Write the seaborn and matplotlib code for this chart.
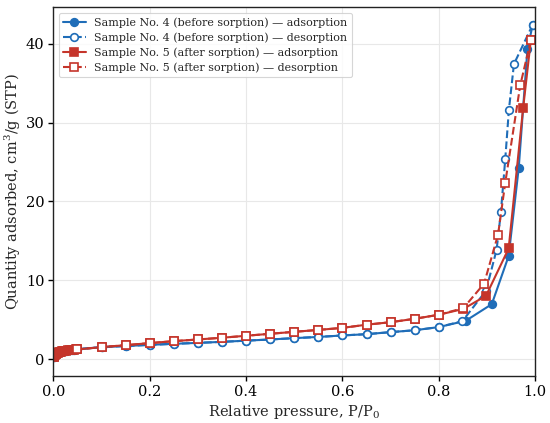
import matplotlib
matplotlib.use("Agg")
import matplotlib.pyplot as plt
import seaborn as sns
import numpy as np
import pandas as pd

# --- data ---
low_p = [0.0005, 0.001, 0.002, 0.003, 0.004, 0.005, 0.0065, 0.008, 0.010, 0.012,
         0.014, 0.016, 0.018, 0.020, 0.023, 0.026, 0.030, 0.034, 0.038, 0.042, 0.046]
low_q4 = [0.25, 0.35, 0.48, 0.57, 0.63, 0.68, 0.74, 0.79, 0.85, 0.90,
          0.94, 0.98, 1.01, 1.04, 1.08, 1.11, 1.15, 1.19, 1.22, 1.25, 1.28]
low_q5 = [0.25, 0.35, 0.48, 0.57, 0.63, 0.68, 0.74, 0.79, 0.85, 0.90,
          0.94, 0.98, 1.01, 1.04, 1.08, 1.11, 1.15, 1.19, 1.22, 1.25, 1.28]

mid_p = [0.05, 0.10, 0.15, 0.20, 0.25, 0.30, 0.35, 0.40, 0.45, 0.50,
         0.55, 0.60, 0.65, 0.70, 0.75, 0.80]
mid_q4 = [1.30, 1.56, 1.70, 1.85, 1.98, 2.10, 2.23, 2.38, 2.53, 2.70,
          2.85, 3.04, 3.20, 3.46, 3.70, 4.10]
mid_q5 = [1.27, 1.56, 1.81, 2.07, 2.32, 2.53, 2.75, 3.00, 3.25, 3.50,
          3.74, 4.00, 4.40, 4.72, 5.15, 5.66]

s4_ads_p = low_p + mid_p + [0.856, 0.910, 0.945, 0.966, 0.984, 0.995]
s4_ads_q = low_q4 + mid_q4 + [4.90, 7.00, 13.1, 24.3, 39.3, 42.4]

s4_des_p = [0.995, 0.956, 0.9455, 0.938, 0.929, 0.920, 0.898, 0.849] + mid_p[::-1]
s4_des_q = [42.4, 37.4, 31.6, 25.4, 18.7, 13.9, 8.7, 4.85] + mid_q4[::-1]

s5_ads_p = low_p + mid_p + [0.851, 0.898, 0.945, 0.975, 0.991]
s5_ads_q = low_q5 + mid_q5 + [6.40, 8.06, 14.05, 31.8, 40.4]

s5_des_p = [0.991, 0.969, 0.938, 0.923, 0.894, 0.851] + mid_p[::-1]
s5_des_q = [40.4, 34.7, 22.4, 15.8, 9.6, 6.5] + mid_q5[::-1]

labels = ["Sample No. 4 (before sorption) \u2014 adsorption",
          "Sample No. 4 (before sorption) \u2014 desorption",
          "Sample No. 5 (after sorption) \u2014 adsorption",
          "Sample No. 5 (after sorption) \u2014 desorption"]

BLUE = "#1f6db8"
RED = "#c5352b"

sns.set_theme(style="whitegrid")
plt.rcParams["font.family"] = ["DejaVu Serif"]
plt.rcParams["mathtext.fontset"] = "dejavuserif"

fig = plt.figure(figsize=(5.5, 4.23), dpi=100)
ax = fig.add_axes([0.097, 0.111, 0.876, 0.872])

series = [
    (s4_ads_p, s4_ads_q, labels[0], BLUE, "o", "-", BLUE),
    (s4_des_p, s4_des_q, labels[1], BLUE, "o", "--", "white"),
    (s5_ads_p, s5_ads_q, labels[2], RED, "s", "-", RED),
    (s5_des_p, s5_des_q, labels[3], RED, "s", "--", "white"),
]
for p, q, lab, col, mk, ls, mfc in series:
    df = pd.DataFrame({"p": p, "q": q})
    sns.lineplot(data=df, x="p", y="q", sort=False, estimator=None, ax=ax,
                 color=col, linestyle=ls, marker=mk, markersize=5.5,
                 markerfacecolor=mfc, markeredgecolor=col, markeredgewidth=1.2,
                 linewidth=1.5, label=lab)

ax.set_xlim(0, 1.0)
ax.set_ylim(-2.1, 44.6)
ax.set_xticks([0.0, 0.2, 0.4, 0.6, 0.8, 1.0])
ax.set_yticks([0, 10, 20, 30, 40])
ax.set_xlabel("Relative pressure, P/P$_0$", fontsize=10.5, labelpad=3)
ax.set_ylabel("Quantity adsorbed, cm$^3$/g (STP)", fontsize=10.5, labelpad=2)
ax.tick_params(axis="both", labelsize=10.5, direction="out", length=3.5,
               width=1, colors="black", bottom=True, left=True, pad=3)
for s in ax.spines.values():
    s.set_color("#222222")
    s.set_linewidth(1.0)
ax.grid(True, color="#e8e8e8", linewidth=0.8)

leg = ax.legend(loc="upper left", fontsize=8, frameon=True, fancybox=True,
                handlelength=2.0, borderpad=0.4, labelspacing=0.4)
leg.get_frame().set_edgecolor("#cccccc")
leg.get_frame().set_linewidth(0.8)

fig.savefig("out.png", dpi=100)
